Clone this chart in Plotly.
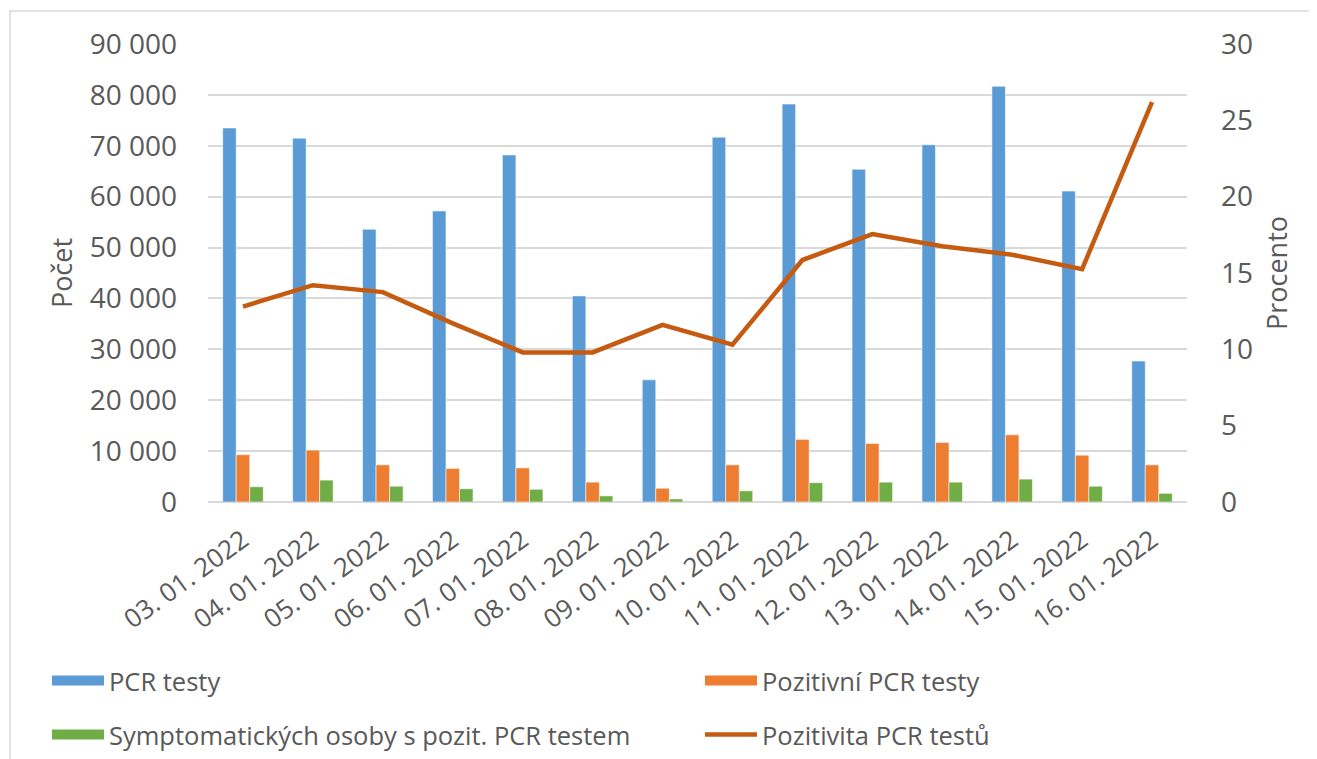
import plotly.graph_objects as go

dates = ["03. 01. 2022", "04. 01. 2022", "05. 01. 2022", "06. 01. 2022", "07. 01. 2022",
         "08. 01. 2022", "09. 01. 2022", "10. 01. 2022", "11. 01. 2022", "12. 01. 2022",
         "13. 01. 2022", "14. 01. 2022", "15. 01. 2022", "16. 01. 2022"]
pcr_testy = [73500, 71500, 53600, 57200, 68200, 40500, 24000, 71700, 78200, 65400, 70200, 81700, 61100, 27700]
pozitivni = [9300, 10200, 7300, 6600, 6700, 3900, 2700, 7300, 12300, 11500, 11700, 13200, 9200, 7300]
symptomaticke = [3000, 4300, 3100, 2600, 2500, 1200, 600, 2200, 3800, 3900, 3900, 4500, 3100, 1700]
pozitivita = [12.8, 14.2, 13.75, 11.7, 9.8, 9.8, 11.6, 10.3, 15.85, 17.55, 16.75, 16.2, 15.25, 26.2]

# the page body adds an 8px offset; figure coordinates below are in screenshot pixels
OFF = 8
W, H = 1317 - OFF, 759 - OFF
L, R, T, B = 208, 1187, 44, 502
FONT = "Open Sans"
GREY = "#595959"
BLUE, ORANGE, GREEN, LINE = "#5B9BD5", "#ED7D31", "#70AD47", "#C55A11"


def px(xpix):
    return (xpix - L) / (R - L)


def py(ypix):
    return (B - ypix) / (B - T)


fig = go.Figure()
edge = dict(width=1, color="rgba(255,255,255,0.55)")
fig.add_trace(go.Bar(x=dates, y=pcr_testy, name="PCR testy", marker=dict(color=BLUE, line=edge),
                     showlegend=False))
fig.add_trace(go.Bar(x=dates, y=pozitivni, name="Pozitivní PCR testy", marker=dict(color=ORANGE, line=edge),
                     showlegend=False))
fig.add_trace(go.Bar(x=dates, y=symptomaticke, name="Symptomatických osoby s pozit. PCR testem",
                     marker=dict(color=GREEN, line=edge), showlegend=False))
fig.add_trace(go.Scatter(x=dates, y=pozitivita, name="Pozitivita PCR testů", yaxis="y2", mode="lines",
                         line=dict(color=LINE, width=4.5), legend="legend4"))

# legend proxies (bar swatches drawn as wide rectangles)
fig.add_trace(go.Scatter(x=[None], y=[None], mode="lines", name="PCR testy",
                         line=dict(color=BLUE, width=17), legend="legend"))
fig.add_trace(go.Scatter(x=[None], y=[None], mode="lines", name="Pozitivní PCR testy",
                         line=dict(color=ORANGE, width=17), legend="legend2"))
fig.add_trace(go.Scatter(x=[None], y=[None], mode="lines", name="Symptomatických osoby s pozit. PCR testem",
                         line=dict(color=GREEN, width=17), legend="legend3"))

shapes = [dict(type="rect", xref="paper", yref="paper", x0=px(10), x1=px(1330), y0=py(780), y1=py(11),
               line=dict(color="#D9D9D9", width=1.5), fillcolor="rgba(0,0,0,0)", layer="below")]

legend_common = dict(orientation="h", xanchor="left", yanchor="middle",
                     font=dict(size=25.5, color=GREY), bgcolor="rgba(0,0,0,0)", itemwidth=52)

fig.update_layout(
    width=W, height=H,
    margin=dict(l=L - OFF, r=W + OFF - R, t=T - OFF, b=H + OFF - B, autoexpand=False),
    paper_bgcolor="white", plot_bgcolor="white",
    separators=", ",
    font=dict(family=FONT, color=GREY, size=26),
    barmode="group", bargap=0.42, bargroupgap=0,
    xaxis=dict(type="category", tickangle=-36, tickfont=dict(size=26, color=GREY), showgrid=False,
               ticks="", showline=False, automargin=False, ticklabelstandoff=17),
    yaxis=dict(range=[0, 90000], dtick=10000, tickformat=",d", showgrid=True, gridcolor="#D9D9D9",
               gridwidth=1.5, zeroline=True, zerolinecolor="#D9D9D9", zerolinewidth=1.5,
               tickfont=dict(size=28, color=GREY), ticklabelstandoff=30, automargin=False,
               title=dict(text="Počet", font=dict(size=27, color=GREY), standoff=9)),
    yaxis2=dict(range=[0, 30], dtick=5, overlaying="y", side="right", showgrid=False, zeroline=False,
                tickfont=dict(size=28, color=GREY), ticklabelstandoff=33, automargin=False,
                title=dict(text="Procento", font=dict(size=27, color=GREY), standoff=16)),
    legend=dict(x=px(47), y=py(681), **legend_common),
    legend2=dict(x=px(700), y=py(681), **legend_common),
    legend3=dict(x=px(47), y=py(735), **legend_common),
    legend4=dict(x=px(700), y=py(735), **legend_common),
    shapes=shapes,
)

fig.write_html("out.html")
